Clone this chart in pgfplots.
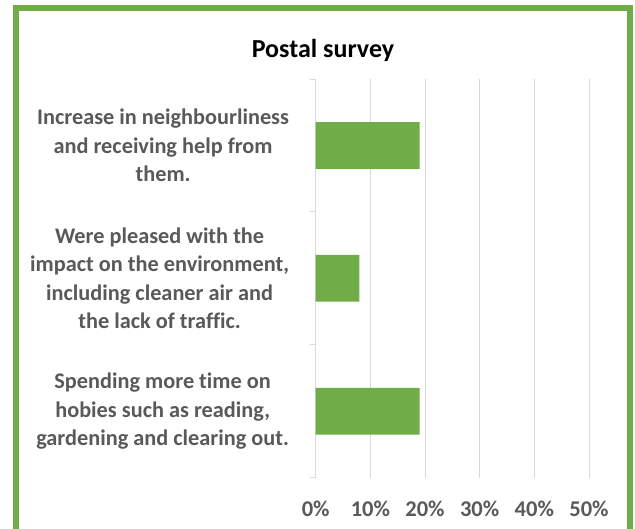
\documentclass[border=0pt]{standalone}
\usepackage{pgfplots}
\pgfplotsset{compat=1.18}
\usepackage{fontspec}
\setmainfont{Carlito}[Ligatures=NoCommon]

\definecolor{barGreen}{HTML}{70AD47}
\definecolor{labelGray}{HTML}{595959}
\definecolor{gridGray}{HTML}{D9D9D9}

\begin{document}
\begin{tikzpicture}[x=1pt,y=1pt]
  \useasboundingbox (0,0) rectangle (635,529);
  % frame, open at the bottom
  \draw[barGreen, line width=6pt] (16,0) -- (16,520.5) -- (630,520.5) -- (630,0);
  \node[anchor=base, font=\bfseries\fontsize{26}{30}\selectfont, text=black]
    at (323,471) {Postal survey};

  \begin{axis}[
      at={(315.7pt,51.3pt)}, anchor=south west,
      scale only axis, width=273.3pt, height=398.7pt,
      xbar, bar width=46.7pt,
      xmin=0, xmax=50, ymin=0.5, ymax=3.5,
      axis x line*=bottom, axis y line*=left,
      x axis line style={draw=none},
      y axis line style={draw=gridGray, line width=0.8pt},
      xtick={0,10,20,30,40,50},
      xticklabels={0\%,10\%,20\%,30\%,40\%,50\%},
      ytick={1,2,3},
      yticklabels={
        {Spending more time on\\hobies such as reading,\\gardening and clearing out.},
        {Were pleased with the\\impact on the environment,\\including cleaner air and\\the lack of traffic.},
        {Increase in neighbourliness\\and receiving help from\\them.}},
      minor ytick={0.5,1.5,2.5,3.5},
      major tick length=0pt, minor tick length=6pt, tick align=outside,
      minor y tick style={draw=gridGray, line width=0.8pt},
      xmajorgrids, major x grid style={draw=gridGray, line width=0.8pt},
      xticklabel style={font=\bfseries\fontsize{22.5}{26}\selectfont, text=labelGray,
        inner sep=0pt, anchor=north, yshift=-23pt},
      yticklabel style={font=\bfseries\fontsize{22.3}{28.5}\selectfont, text=labelGray,
        align=center, inner sep=0pt, anchor=east, xshift=-26.5pt},
    ]
    \addplot[fill=barGreen, draw=none] coordinates {(19,1) (8,2) (19,3)};
  \end{axis}
\end{tikzpicture}
\end{document}
